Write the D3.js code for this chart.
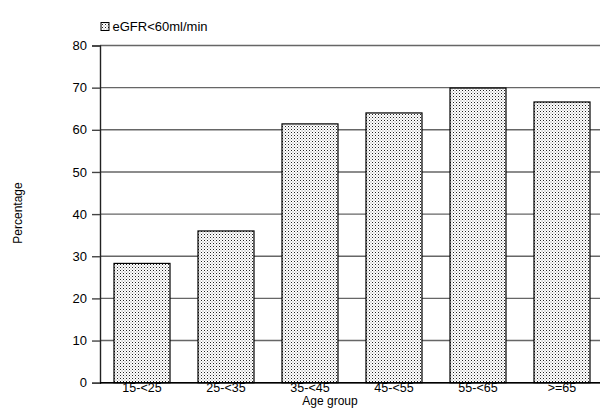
<!DOCTYPE html>
<html><head><meta charset="utf-8">
<script src="https://cdn.jsdelivr.net/npm/d3@7"></script>
<style>body{margin:0;background:#fff}svg{display:block}text{font-family:"Liberation Sans",Arial,sans-serif}</style>
</head><body>
<script>
const categories = ["15-<25","25-<35","35-<45","45-<55","55-<65",">=65"];
const values = [28.3, 36.0, 61.4, 64.0, 69.9, 66.6];
const yTicks = [0,10,20,30,40,50,60,70,80];
const seriesName = "eGFR<60ml/min";

const W=600,H=408;
const svg=d3.select("body").append("svg").attr("width",W).attr("height",H);
const defs=svg.append("defs");
const pat=defs.append("pattern").attr("id","dots").attr("patternUnits","userSpaceOnUse").attr("width",3).attr("height",3);
pat.append("rect").attr("width",3).attr("height",3).attr("fill","#fff");
pat.append("rect").attr("x",0).attr("y",0).attr("width",1).attr("height",1).attr("fill","#222");
pat.append("rect").attr("x",1.5).attr("y",1.5).attr("width",1).attr("height",1).attr("fill","#888");

const x=d3.scaleBand().domain(categories).range([100,604]).paddingInner(1/3).paddingOuter(1/6);
const y=d3.scaleLinear().domain([0,80]).range([382.7,45.5]);

// gridlines
svg.append("g").selectAll("line").data(yTicks).join("line")
  .attr("x1",100).attr("x2",W).attr("y1",d=>y(d)).attr("y2",d=>y(d))
  .attr("stroke","#666").attr("stroke-width",1.4);

// bars
svg.append("g").selectAll("rect").data(values).join("rect")
  .attr("x",(d,i)=>x(categories[i])).attr("width",x.bandwidth())
  .attr("y",d=>y(d)).attr("height",d=>y(0)-y(d))
  .attr("fill","url(#dots)").attr("stroke","#000").attr("stroke-width",1.2);

// y axis
const ya=svg.append("g").attr("transform","translate(100,0)")
  .call(d3.axisLeft(y).tickValues(yTicks).tickSize(8).tickPadding(5).tickFormat(d3.format("d")));
ya.select(".domain").attr("stroke","#222").attr("stroke-width",1.4);
ya.selectAll(".tick line").attr("stroke","#444").attr("stroke-width",1.4);
ya.selectAll("text").attr("font-size",13).attr("fill","#000").attr("font-family","Liberation Sans, Arial, sans-serif");

// x axis
const xa=svg.append("g").attr("transform",`translate(0,${y(0)})`)
  .call(d3.axisBottom(x).tickSize(0).tickPadding(0.5));
xa.select(".domain").attr("d",`M100,0H${W}`).attr("stroke","#000").attr("stroke-width",1.6);
xa.selectAll("text").attr("font-size",12.5).attr("fill","#000").attr("font-family","Liberation Sans, Arial, sans-serif");

// axis titles
svg.append("text").attr("x",330).attr("y",405.3).attr("text-anchor","middle").attr("font-size",12).text("Age group");
svg.append("text").attr("transform","translate(22,213) rotate(-90)").attr("text-anchor","middle").attr("font-size",12).text("Percentage");

// legend
svg.append("rect").attr("x",101).attr("y",22.5).attr("width",8).attr("height",8).attr("fill","url(#dots)").attr("stroke","#000").attr("stroke-width",1);
svg.append("text").attr("x",112.5).attr("y",30.5).attr("font-size",13).text(seriesName);
</script>
</body></html>
